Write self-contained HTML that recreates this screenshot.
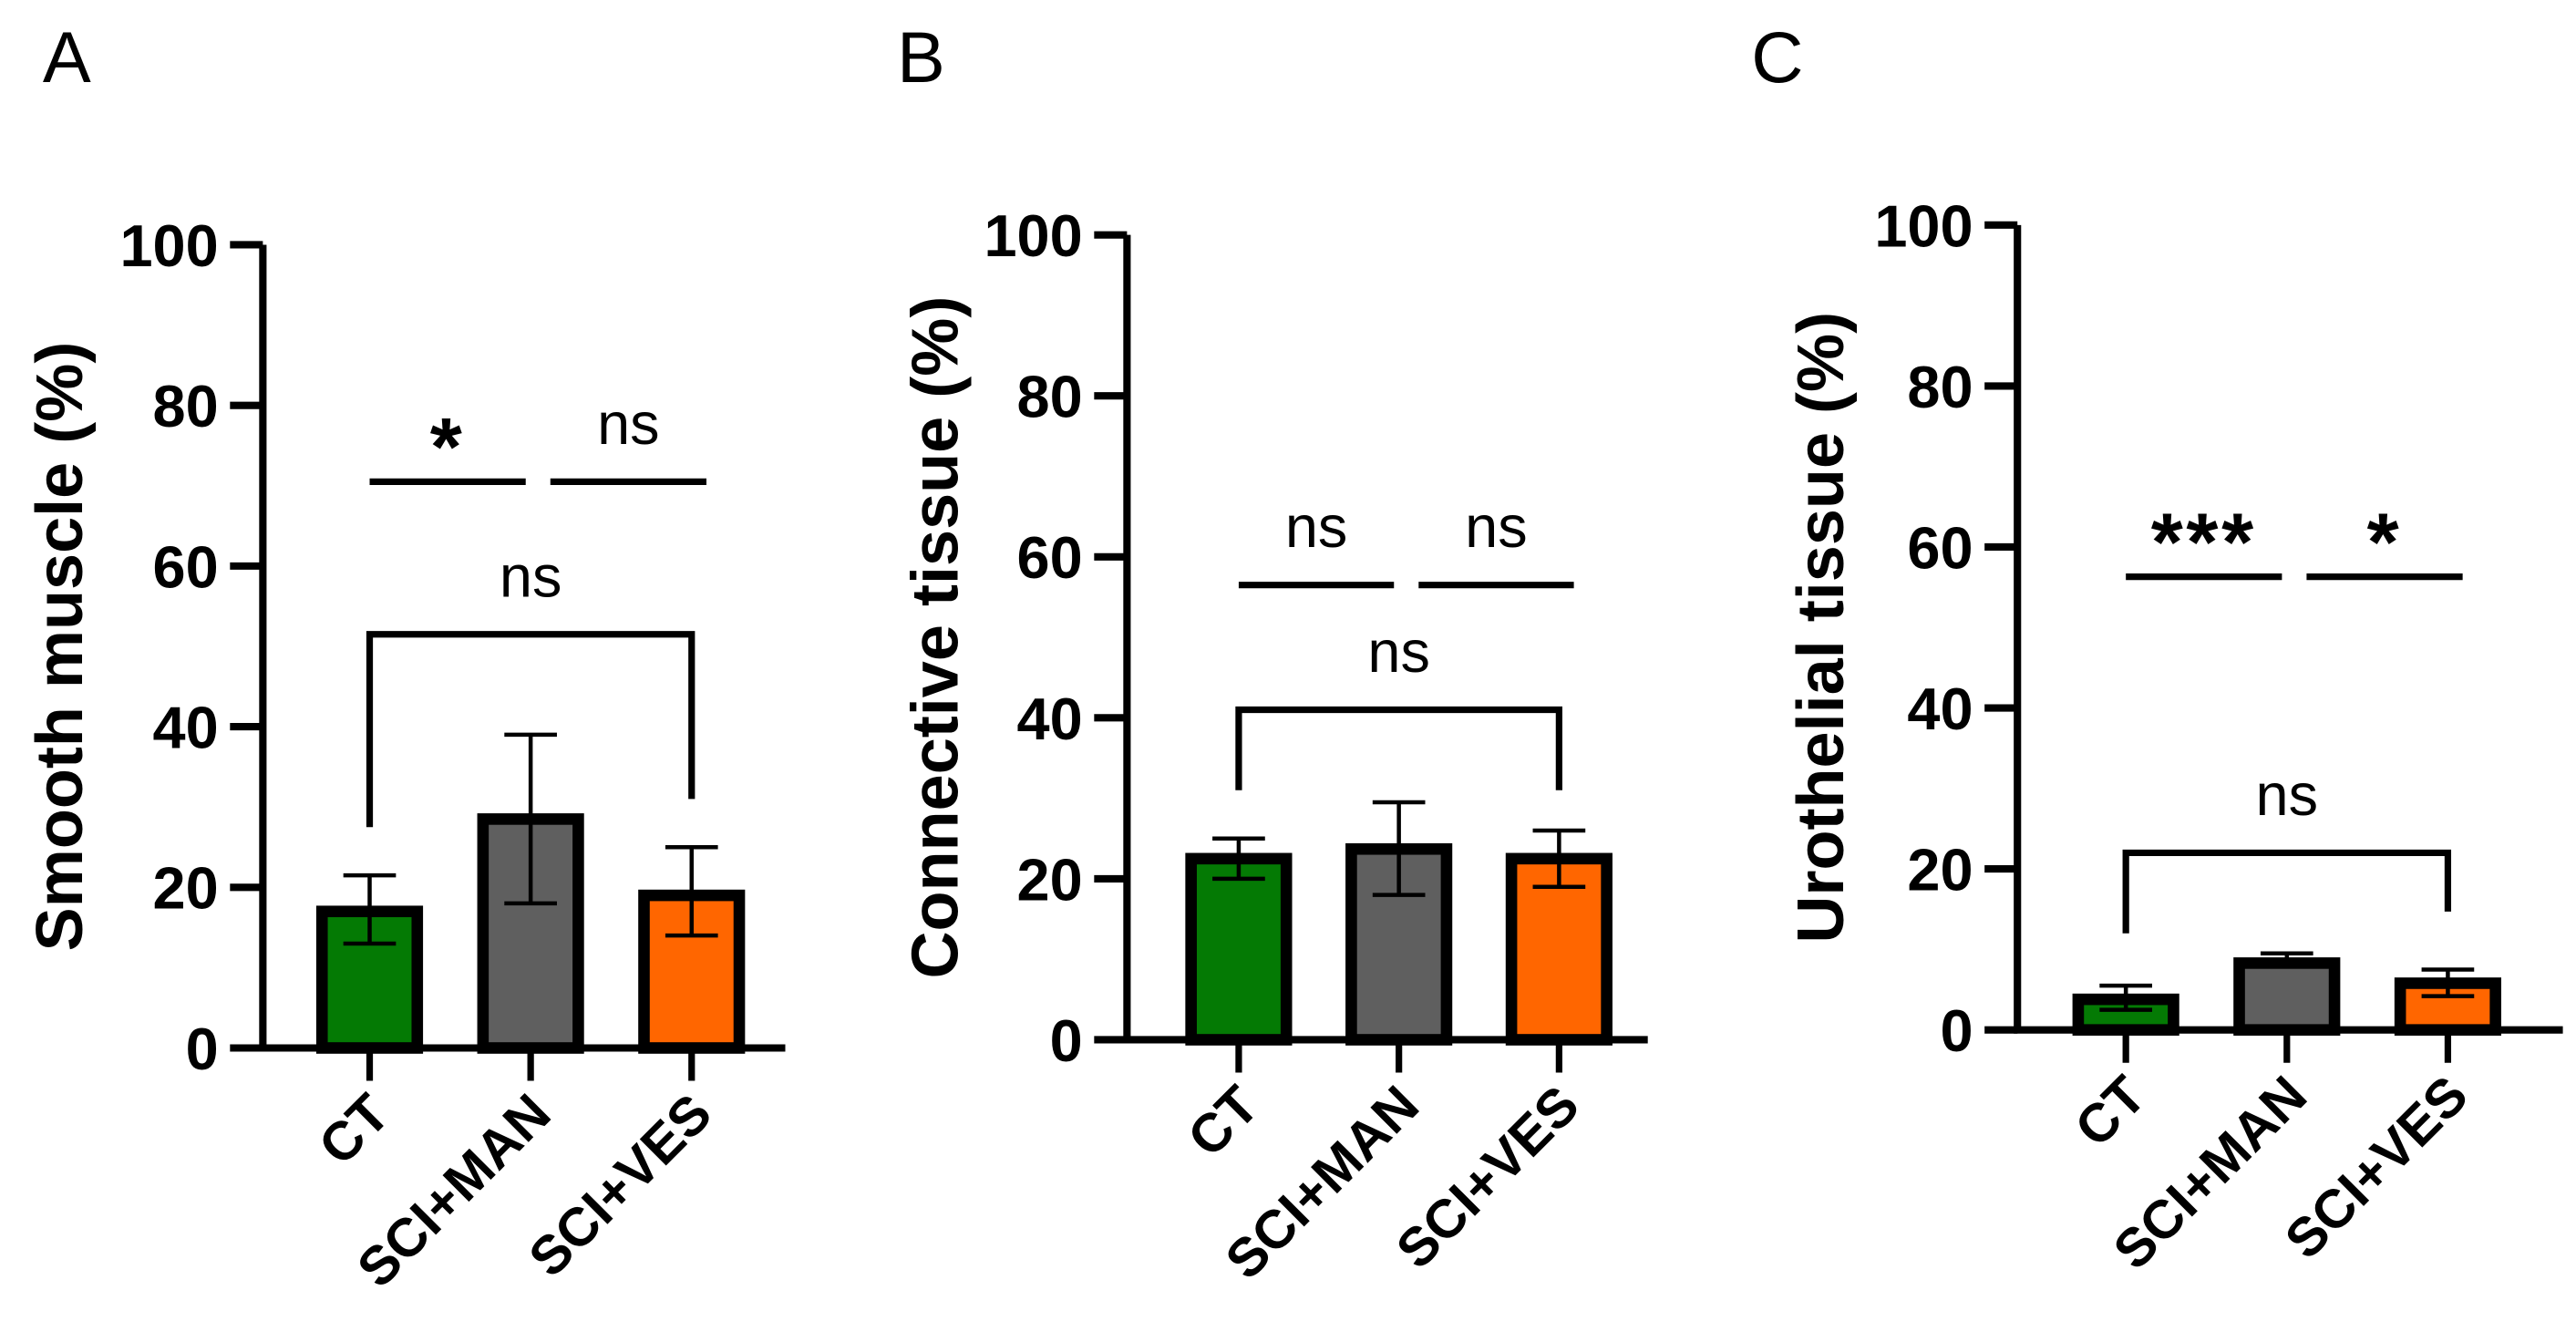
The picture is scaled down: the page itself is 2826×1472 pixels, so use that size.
<!DOCTYPE html>
<html><head><meta charset="utf-8"><style>
html,body{margin:0;padding:0;background:#fff;}
svg{display:block;font-family:"Liberation Sans",Arial,sans-serif;}
</style></head><body>
<svg id="fig" width="2826" height="1472" viewBox="0 0 1568 817" preserveAspectRatio="none"></svg>
<script>
const categories = ["CT","SCI+MAN","SCI+VES"];
const colors = ["#047a04","#5f5f5f","#ff6600"];
const yTicks = [0,20,40,60,80,100];
const smoothMean = [17,28.5,19];
const smoothLo = [13,18,14];
const smoothHi = [21.5,39,25];
const connMean = [22.5,23.7,22.5];
const connLo = [20,18,19];
const connHi = [25,29.5,26];
const uroMean = [3.8,8.3,5.8];
const uroLo = [2.5,8,4.2];
const uroHi = [5.5,9.5,7.5];
const smoothSig = ["*","ns","ns"];
const connSig = ["ns","ns","ns"];
const uroSig = ["***","*","ns"];
const smoothBracket = [70.5,51.5,27.5,31];
const connBracket = [56.5,41,31,31];
const uroBracket = [56.3,22,12,14.7];

const NS="http://www.w3.org/2000/svg";
const svg=document.getElementById('fig');
function mk(tag,attrs,parent){const e=document.createElementNS(NS,tag);for(const k in attrs)e.setAttribute(k,attrs[k]);(parent||svg).appendChild(e);return e;}

function panel(p){
  const g=mk('g',{});
  
  
  const y=v=>p.y0-(p.y0-p.y100)*v/100;
  const x=i=>p.x0+p.first+i*p.step;
  const L=mk('text',{x:p.letterX,y:50,'font-size':44},g);L.textContent=p.letter;
  
  
  const t=mk('text',{x:0,y:0,'font-size':40,'font-weight':'bold','text-anchor':'middle',transform:`translate(${p.titleX},${(p.y0+p.y100)/2}) rotate(-90)`},g);
  t.textContent=p.title;
  
  
  p.mean.forEach((m,i)=>{
    const b=mk('rect',{x:x(i)-29,y:y(m),width:58,height:p.y0-y(m),fill:colors[i],stroke:'#000','stroke-width':7},g);
    
    
    const e=mk('path',{d:`M${x(i)},${y(p.lo[i])}V${y(p.hi[i])}M${x(i)-16},${y(p.hi[i])}H${x(i)+16}M${x(i)-16},${y(p.lo[i])}H${x(i)+16}`,stroke:'#000','stroke-width':2.5,fill:'none'},g);
    
    
    const tk=mk('line',{x1:x(i),x2:x(i),y1:p.y0,y2:p.y0+20,stroke:'#000','stroke-width':4},g);
    
    
    const lb=mk('text',{x:0,y:0,'font-size':33,'font-weight':'bold','text-anchor':'end',transform:`translate(${x(i)+14},${p.y0+42}) rotate(-45)`},g);
    lb.textContent=categories[i];
    
    
  });
  const ax=mk('path',{d:`M${p.x0},${p.y100}V${p.y0}H${p.xEnd}`,stroke:'#000','stroke-width':4.5,fill:'none'},g);
  
  
  yTicks.forEach(v=>{
    const l=mk('line',{x1:p.x0-20,x2:p.x0,y1:y(v),y2:y(v),stroke:'#000','stroke-width':4.5},g);
    
    
    const tx=mk('text',{x:p.x0-27,y:y(v)+13,'font-size':36,'font-weight':'bold','text-anchor':'end'},g);
    tx.textContent=v;
    
    
  });
  const br=p.bracket, ly=y(br[0]);
  [[0,1],[1,2]].forEach(([a,b],k)=>{
    const x1=k===0?x(a):x(a)+12, x2=k===0?x(b)-3:x(b)+9;
    const s=mk('line',{x1:x1,x2:x2,y1:ly,y2:ly,stroke:'#000','stroke-width':4},g);
    
    
    const star=p.sig[k]!=='ns';
    const st=mk('text',{x:(x1+x2)/2,y:star?ly-4:ly-23,'font-size':star?50:36,'font-weight':star?'bold':'normal','text-anchor':'middle','letter-spacing':star?2:0},g);
    st.textContent=p.sig[k];
    
    
  });
  const by=y(br[1]);
  const bk=mk('path',{d:`M${x(0)},${y(br[2])}V${by}H${x(2)}V${y(br[3])}`,stroke:'#000','stroke-width':4,fill:'none'},g);
  
  
  const bt=mk('text',{x:(x(0)+x(2))/2,y:by-23,'font-size':36,'text-anchor':'middle'},g);
  bt.textContent=p.sig[2];
  
  
}
panel({name:'panel-a-smooth-muscle',letter:'A',letterX:26,title:'Smooth muscle (%)',titleX:50,x0:160,xEnd:478,y0:638,y100:149,first:65,step:98,mean:smoothMean,lo:smoothLo,hi:smoothHi,sig:smoothSig,bracket:smoothBracket});
panel({name:'panel-b-connective-tissue',letter:'B',letterX:546,title:'Connective tissue (%)',titleX:583,x0:686,xEnd:1003,y0:633,y100:143,first:68,step:97.5,mean:connMean,lo:connLo,hi:connHi,sig:connSig,bracket:connBracket});
panel({name:'panel-c-urothelial-tissue',letter:'C',letterX:1066,title:'Urothelial tissue (%)',titleX:1122,x0:1228,xEnd:1560,y0:627,y100:137,first:66,step:98,mean:uroMean,lo:uroLo,hi:uroHi,sig:uroSig,bracket:uroBracket});
</script>
</body></html>
